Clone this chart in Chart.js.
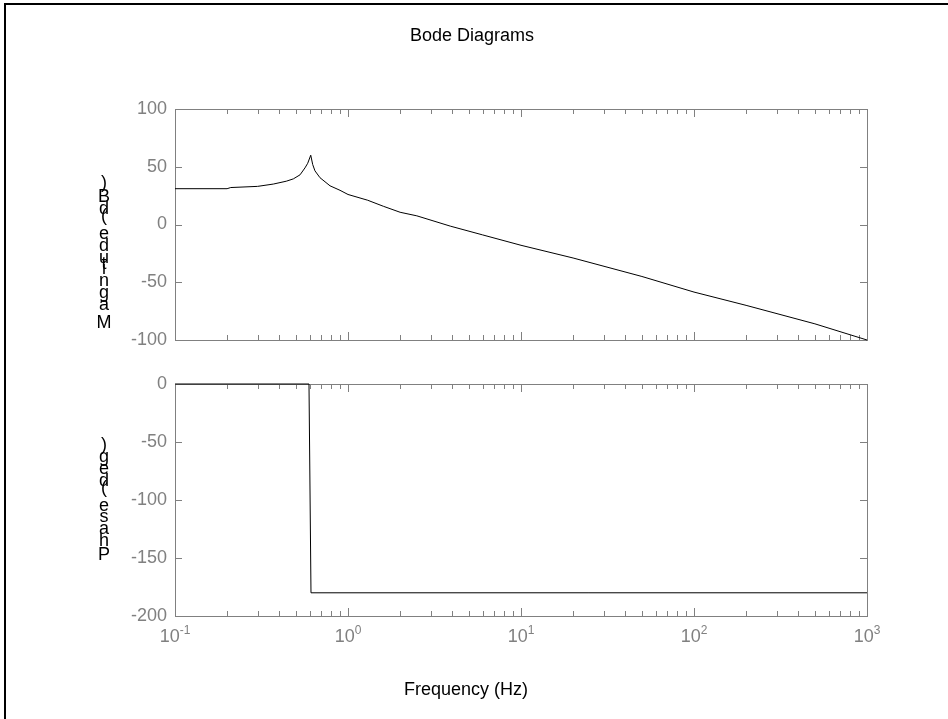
<!DOCTYPE html>
<html>
<head>
<meta charset="utf-8">
<title>Bode Diagrams</title>
<script src="https://cdn.jsdelivr.net/npm/chart.js@4.4.1/dist/chart.umd.min.js"></script>
<style>
  html, body { margin: 0; padding: 0; background: #fff; }
  #fig { position: relative; width: 948px; height: 719px; overflow: hidden; background: #fff; }
  #frame { position: absolute; left: 4px; top: 3px; width: 1000px; height: 800px;
           border-left: 2px solid #000; border-top: 2px solid #000; box-sizing: border-box; }
  canvas { position: absolute; left: 0; top: 0; }
</style>
</head>
<body>
<div id="fig">
  <div id="frame"></div>
  <canvas id="magChart" width="948" height="719"></canvas>
  <canvas id="phaseChart" width="948" height="719"></canvas>
</div>
<script>
// magnitude curve (Hz, dB)
const magFreq = [0.1, 0.2, 0.21, 0.3, 0.37, 0.44, 0.483, 0.528, 0.564, 0.585, 0.609, 0.625, 0.644, 0.689, 0.787, 0.899, 1.0, 1.3, 1.6, 2.0, 2.5, 3.9, 6, 10, 20, 50, 100, 200, 500, 1000];
const magDb = [31, 31, 32, 33, 35, 37.5, 39.5, 43, 49, 53, 60, 52, 46.5, 40.5, 33.5, 29.6, 26, 21, 15.8, 10.6, 7.5, -1.4, -9, -18, -29, -45, -58.5, -70, -86, -100];

// phase curve (Hz, deg)
const phaseFreq = [0.1, 0.595, 0.611, 1000];
const phaseDeg = [0, 0, -180, -180];

// axis ticks
const magTicks = [-100, -50, 0, 50, 100];
const phaseTicks = [-200, -150, -100, -50, 0];
const decadeExps = [-1, 0, 1, 2, 3];

const FONT = '"Liberation Sans", Arial, Helvetica, sans-serif';
const axisGray = '#808080';

function toPoints(xs, ys) {
  return xs.map((f, i) => ({ x: f, y: ys[i] }));
}

// box + inward ticks, matlab style
const axesBox = {
  id: 'axesBox',
  beforeDatasetsDraw(chart) {
    const { ctx, chartArea: a, scales: { x, y } } = chart;
    ctx.save();
    ctx.strokeStyle = axisGray;
    ctx.lineWidth = 1;
    ctx.strokeRect(a.left + 0.5, a.top + 0.5, a.width, a.height);
    ctx.beginPath();
    decadeExps.forEach(k => {
      for (let m = 1; m <= 9; m++) {
        const v = m * Math.pow(10, k);
        if (v < 0.1 || v > 1000) continue;
        const px = Math.round(x.getPixelForValue(v)) + 0.5;
        const len = m === 1 ? 8 : 5;
        ctx.moveTo(px, a.top);
        ctx.lineTo(px, a.top + len);
        ctx.moveTo(px, a.bottom);
        ctx.lineTo(px, a.bottom - len);
      }
    });
    y.ticks.forEach(t => {
      const py = Math.round(y.getPixelForValue(t.value)) + 0.5;
      ctx.moveTo(a.left, py);
      ctx.lineTo(a.left + 7, py);
      ctx.moveTo(a.right, py);
      ctx.lineTo(a.right - 7, py);
    });
    ctx.stroke();
    ctx.restore();
  }
};

// y label drawn one upright glyph at a time, stacked upwards
function stackedLabel(ctx, text, cx, baseY, k) {
  ctx.save();
  ctx.font = '18px ' + FONT;
  ctx.fillStyle = '#000';
  ctx.textAlign = 'center';
  ctx.textBaseline = 'alphabetic';
  let yy = baseY;
  for (const ch of text) {
    ctx.fillText(ch, cx, yy);
    yy -= ctx.measureText(ch).width * k;
  }
  ctx.restore();
}

const figText = {
  id: 'figText',
  afterDraw(chart, args, opts) {
    const { ctx } = chart;
    if (opts.title) {
      ctx.save();
      ctx.font = '18px ' + FONT;
      ctx.fillStyle = '#000';
      ctx.textAlign = 'center';
      ctx.textBaseline = 'middle';
      ctx.fillText(opts.title, opts.titleX, opts.titleY);
      ctx.restore();
    }
    if (opts.ylabel) stackedLabel(ctx, opts.ylabel, 104, opts.ylabelBase, 1.2);
    if (opts.decadeLabels) {
      const x = chart.scales.x;
      ctx.save();
      ctx.fillStyle = axisGray;
      ctx.textBaseline = 'alphabetic';
      ctx.textAlign = 'left';
      decadeExps.forEach(k => {
        const px = x.getPixelForValue(Math.pow(10, k));
        const exp = String(k);
        ctx.font = '18px ' + FONT;
        const wb = ctx.measureText('10').width;
        ctx.font = '12px ' + FONT;
        const we = ctx.measureText(exp).width;
        const left = px - (wb + we) / 2;
        ctx.font = '18px ' + FONT;
        ctx.fillText('10', left, 642);
        ctx.font = '12px ' + FONT;
        ctx.fillText(exp, left + wb, 634);
      });
      ctx.restore();
    }
  }
};

function makeOptions(yMin, yMax, ticks, padTop, xHeight, figOpts) {
  return {
    responsive: false,
    animation: false,
    events: [],
    layout: { padding: { top: padTop, right: 81, left: 0, bottom: 0 } },
    plugins: {
      legend: { display: false },
      tooltip: { enabled: false },
      figText: figOpts
    },
    scales: {
      x: {
        type: 'logarithmic',
        min: 0.1,
        max: 1000,
        ticks: { display: false },
        grid: { display: false },
        border: { display: false },
        afterFit(scale) { scale.height = xHeight; }
      },
      y: {
        min: yMin,
        max: yMax,
        afterBuildTicks(scale) { scale.ticks = ticks.map(v => ({ value: v })); },
        ticks: {
          color: axisGray,
          padding: 8,
          font: { family: FONT, size: 18 }
        },
        grid: { display: false, drawTicks: false },
        border: { display: false },
        afterFit(scale) { scale.width = 175; }
      }
    }
  };
}

new Chart(document.getElementById('magChart'), {
  type: 'line',
  data: {
    datasets: [{
      data: toPoints(magFreq, magDb),
      borderColor: '#000',
      borderWidth: 1,
      pointRadius: 0,
      tension: 0,
      clip: false
    }]
  },
  options: makeOptions(-100, 100, magTicks, 109, 719 - 340, {
    title: 'Bode Diagrams', titleX: 472, titleY: 36,
    ylabel: 'Magnitude (dB)', ylabelBase: 328
  }),
  plugins: [axesBox, figText]
});

new Chart(document.getElementById('phaseChart'), {
  type: 'line',
  data: {
    datasets: [{
      data: toPoints(phaseFreq, phaseDeg),
      borderColor: '#000',
      borderWidth: 1,
      pointRadius: 0,
      tension: 0,
      clip: false
    }]
  },
  options: makeOptions(-200, 0, phaseTicks, 384, 719 - 616, {
    title: 'Frequency (Hz)', titleX: 466, titleY: 690,
    ylabel: 'Phase (deg)', ylabelBase: 560,
    decadeLabels: true
  }),
  plugins: [axesBox, figText]
});
</script>
</body>
</html>
